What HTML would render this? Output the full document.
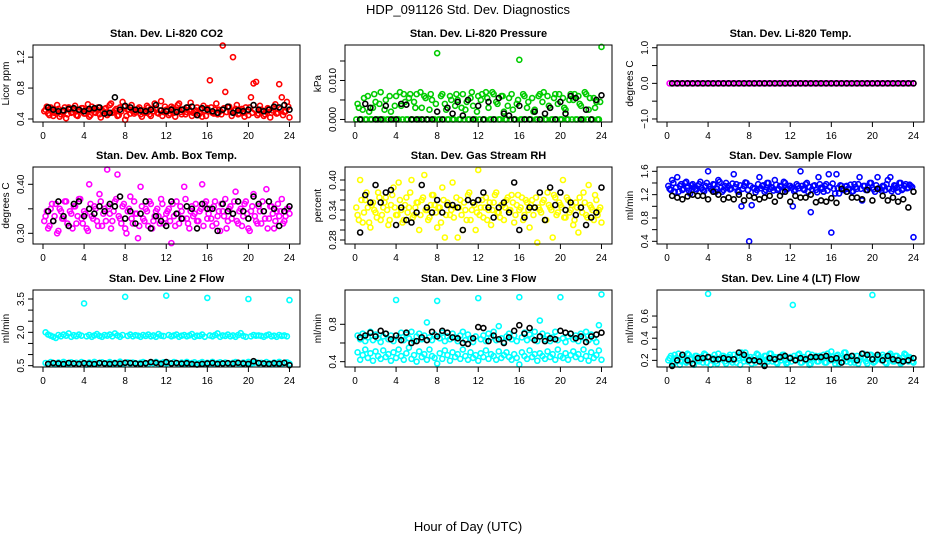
<!DOCTYPE html>
<html><head><meta charset="utf-8"><style>
html,body{margin:0;padding:0;background:#fff;}
svg{display:block;font-family:"Liberation Sans",Arial,sans-serif;}
</style></head><body>
<svg id="chart" width="936" height="540" viewBox="0 0 936 540">
<text x="468" y="14" text-anchor="middle" font-size="13">HDP_091126  Std. Dev. Diagnostics</text>
<text x="468" y="531" text-anchor="middle" font-size="13">Hour of Day (UTC)</text>
</svg>
<script>
const hoursC=[0.25,0.5,0.75,1,1.25,1.5,1.75,2,2.25,2.5,2.75,3,3.25,3.5,3.75,4,4.25,4.5,4.75,5,5.25,5.5,5.75,6,6.25,6.5,6.75,7,7.25,7.5,7.75,8,8.25,8.5,8.75,9,9.25,9.5,9.75,10,10.25,10.5,10.75,11,11.25,11.5,11.75,12,12.25,12.5,12.75,13,13.25,13.5,13.75,14,14.25,14.5,14.75,15,15.25,15.5,15.75,16,16.25,16.5,16.75,17,17.25,17.5,17.75,18,18.25,18.5,18.75,19,19.25,19.5,19.75,20,20.25,20.5,20.75,21,21.25,21.5,21.75,22,22.25,22.5,22.75,23,23.25,23.5,23.75,24];
const hoursC2=[0.125,0.375,0.625,0.875,1.125,1.375,1.625,1.875,2.125,2.375,2.625,2.875,3.125,3.375,3.625,3.875,4.125,4.375,4.625,4.875,5.125,5.375,5.625,5.875,6.125,6.375,6.625,6.875,7.125,7.375,7.625,7.875,8.125,8.375,8.625,8.875,9.125,9.375,9.625,9.875,10.125,10.375,10.625,10.875,11.125,11.375,11.625,11.875,12.125,12.375,12.625,12.875,13.125,13.375,13.625,13.875,14.125,14.375,14.625,14.875,15.125,15.375,15.625,15.875,16.125,16.375,16.625,16.875,17.125,17.375,17.625,17.875,18.125,18.375,18.625,18.875,19.125,19.375,19.625,19.875,20.125,20.375,20.625,20.875,21.125,21.375,21.625,21.875,22.125,22.375,22.625,22.875,23.125,23.375,23.625,23.875];
const hoursK=[0.5,1,1.5,2,2.5,3,3.5,4,4.5,5,5.5,6,6.5,7,7.5,8,8.5,9,9.5,10,10.5,11,11.5,12,12.5,13,13.5,14,14.5,15,15.5,16,16.5,17,17.5,18,18.5,19,19.5,20,20.5,21,21.5,22,22.5,23,23.5,24];
const xTicks=[0,4,8,12,16,20,24];

const co2Colored=[0.52,0.47,0.55,0.44,0.50,0.53,0.46,0.49,0.41,0.55,0.48,0.52,
0.45,0.50,0.54,0.47,0.51,0.43,0.56,0.49,0.52,0.46,0.50,0.53,
0.45,0.58,0.48,0.51,0.44,0.55,0.62,0.39,0.52,0.47,0.50,0.49,
0.53,0.46,0.51,0.48,0.55,0.44,0.50,0.53,0.47,0.63,0.49,0.52,
0.45,0.56,0.48,0.51,0.60,0.46,0.53,0.49,0.52,0.44,0.50,0.55,
0.47,0.43,0.51,0.54,0.90,0.48,0.52,0.46,0.50,1.35,0.75,0.55,
0.49,1.20,0.53,0.46,0.51,0.48,0.55,0.45,0.68,0.86,0.88,0.47,
0.52,0.44,0.50,0.53,0.48,0.55,0.47,0.85,0.68,0.49,0.62,0.42];
const co2Colored2=[0.50,0.56,0.45,0.53,0.48,0.58,0.43,0.51,0.55,0.46,0.52,0.49,
0.57,0.44,0.51,0.54,0.47,0.59,0.45,0.52,0.48,0.55,0.42,0.50,
0.54,0.47,0.60,0.49,0.53,0.45,0.50,0.56,0.44,0.52,0.58,0.47,
0.51,0.55,0.43,0.49,0.57,0.46,0.53,0.60,0.48,0.51,0.44,0.56,
0.50,0.47,0.54,0.43,0.58,0.49,0.52,0.46,0.55,0.61,0.48,0.51,
0.45,0.53,0.57,0.44,0.50,0.55,0.47,0.60,0.52,0.46,0.54,0.49,
0.56,0.44,0.51,0.58,0.47,0.53,0.43,0.50,0.55,0.48,0.52,0.45,
0.57,0.50,0.46,0.54,0.42,0.51,0.59,0.48,0.53,0.45,0.50,0.56];
const co2Black=[0.55,0.52,0.50,0.51,0.53,0.54,0.52,0.50,0.53,0.54,0.55,0.47,0.48,0.68,0.52,0.57,0.55,0.52,0.51,0.50,0.52,0.58,0.51,0.50,0.52,0.49,0.52,0.55,0.56,0.45,0.54,0.52,0.50,0.48,0.52,0.56,0.48,0.51,0.50,0.52,0.58,0.52,0.50,0.52,0.56,0.55,0.58,0.52];

const presColored=[0.0040,0,0.0025,0,0.0060,0,0.0030,0.0045,0,0.0070,0,0.0050,
0,0.0020,0,0.0060,0,0.0035,0.0065,0,0.0055,0,0.0045,0.0065,
0,0.0030,0.0060,0,0.0025,0.0050,0,0.0170,0,0.0065,0.0040,0,
0.0060,0,0.0035,0.0050,0,0.0065,0.0025,0,0.0055,0.0035,0,0.0060,
0.0050,0,0.0070,0.0030,0,0.0065,0.0045,0,0.0060,0.0020,0,0.0055,
0.0065,0,0.0040,0.0153,0,0.0060,0.0030,0,0.0055,0.0025,0,0.0065,
0.0045,0,0.0060,0.0030,0,0.0065,0.0040,0,0.0055,0.0025,0,0.0065,
0.0050,0,0.0060,0.0035,0,0.0065,0.0025,0,0.0055,0.0045,0,0.0186];
const presColored2=[0,0.0030,0,0.0055,0,0.0020,0,0.0065,0,0.0040,0,0.0025,
0,0.0060,0,0.0035,0,0.0070,0,0.0045,0,0.0065,0,0.0030,
0,0.0070,0,0.0055,0,0.0065,0,0.0040,0,0.0060,0,0.0025,
0,0.0050,0,0.0065,0,0.0030,0,0.0045,0,0.0070,0,0.0020,
0,0.0065,0,0.0055,0,0.0070,0,0.0040,0,0.0060,0,0.0035,
0,0.0025,0,0.0050,0,0.0065,0,0.0045,0,0.0020,0,0.0060,
0,0.0070,0,0.0035,0,0.0055,0,0.0065,0,0.0030,0,0.0050,
0,0.0065,0,0.0040,0,0.0070,0,0.0055,0,0.0030,0,0.0045];
const presBlack=[0,0.0040,0.0030,0,0,0.0035,0,0,0.0040,0.0038,0,0,0,0,0,0.0020,0,0.0030,0.0015,0.0045,0.0010,0.0050,0,0.0035,0,0.0045,0,0.0055,0.0015,0.0010,0,0.0035,0,0,0.0020,0,0.0015,0.0030,0,0.0045,0.0015,0.0060,0.0055,0,0.0025,0,0.0050,0.0062];

const tempColored=[0,0,0,0,0,0,0,0,0,0,0,0,0,0,0,0,0,0,0,0,0,0,0,0,0,0,0,0,0,0,0,0,0,0,0,0,0,0,0,0,0,0,0,0,0,0,0,0,0,0,0,0,0,0,0,0,0,0,0,0,0,0,0,0,0,0,0,0,0,0,0,0,0,0,0,0,0,0,0,0,0,0,0,0,0,0,0,0,0,0,0,0,0,0,0,0];
const tempBlack=[0,0,0,0,0,0,0,0,0,0,0,0,0,0,0,0,0,0,0,0,0,0,0,0,0,0,0,0,0,0,0,0,0,0,0,0,0,0,0,0,0,0,0,0,0,0,0,0];

const boxColored=[0.335,0.310,0.350,0.325,0.360,0.305,0.345,0.330,0.365,0.315,0.340,0.355,
0.320,0.370,0.330,0.345,0.310,0.400,0.335,0.355,0.325,0.380,0.315,0.350,
0.430,0.340,0.325,0.365,0.420,0.330,0.355,0.310,0.345,0.375,0.320,0.340,
0.290,0.395,0.330,0.350,0.315,0.360,0.325,0.345,0.335,0.370,0.320,0.340,
0.350,0.280,0.335,0.365,0.320,0.345,0.395,0.330,0.310,0.355,0.340,0.325,
0.345,0.400,0.360,0.330,0.350,0.315,0.365,0.335,0.305,0.345,0.370,0.325,
0.355,0.340,0.385,0.320,0.350,0.335,0.365,0.310,0.345,0.380,0.325,0.355,
0.320,0.345,0.390,0.330,0.355,0.310,0.345,0.335,0.370,0.325,0.350,0.340];
const boxColored2=[0.325,0.345,0.315,0.360,0.335,0.300,0.350,0.330,0.365,0.320,0.345,0.310,
0.355,0.335,0.370,0.320,0.340,0.305,0.360,0.330,0.350,0.315,0.365,0.340,
0.325,0.355,0.310,0.345,0.370,0.335,0.320,0.360,0.300,0.350,0.330,0.365,
0.340,0.315,0.355,0.325,0.345,0.365,0.310,0.335,0.350,0.320,0.360,0.330,
0.345,0.325,0.360,0.315,0.340,0.355,0.330,0.370,0.320,0.345,0.335,0.360,
0.325,0.350,0.315,0.365,0.340,0.330,0.355,0.320,0.345,0.360,0.335,0.310,
0.350,0.330,0.365,0.325,0.345,0.315,0.360,0.340,0.305,0.355,0.335,0.320,
0.345,0.365,0.330,0.310,0.355,0.340,0.325,0.360,0.345,0.320,0.335,0.350];
const boxBlack=[0.345,0.325,0.365,0.335,0.315,0.360,0.365,0.335,0.350,0.340,0.355,0.345,0.360,0.355,0.375,0.330,0.345,0.320,0.340,0.365,0.310,0.335,0.325,0.315,0.365,0.340,0.330,0.355,0.350,0.310,0.360,0.350,0.350,0.305,0.360,0.345,0.340,0.365,0.345,0.330,0.375,0.360,0.345,0.365,0.350,0.315,0.345,0.355];

const rhColored=[0.330,0.400,0.315,0.360,0.345,0.305,0.355,0.335,0.375,0.320,0.345,0.365,
0.310,0.350,0.385,0.330,0.395,0.340,0.320,0.365,0.345,0.400,0.330,0.355,
0.300,0.360,0.410,0.340,0.325,0.370,0.350,0.305,0.345,0.385,0.285,0.355,
0.330,0.395,0.345,0.285,0.360,0.300,0.340,0.370,0.320,0.355,0.300,0.420,
0.345,0.325,0.365,0.340,0.310,0.355,0.375,0.335,0.350,0.320,0.360,0.340,
0.370,0.315,0.350,0.340,0.365,0.330,0.355,0.305,0.360,0.345,0.275,0.340,
0.355,0.320,0.375,0.345,0.285,0.365,0.335,0.350,0.400,0.325,0.360,0.340,
0.310,0.355,0.295,0.345,0.375,0.330,0.390,0.345,0.320,0.360,0.340,0.315];
const rhColored2=[0.345,0.320,0.360,0.335,0.375,0.315,0.350,0.340,0.325,0.365,0.330,0.355,
0.340,0.320,0.370,0.345,0.330,0.360,0.315,0.350,0.335,0.375,0.325,0.345,
0.355,0.330,0.365,0.340,0.320,0.350,0.370,0.335,0.345,0.315,0.360,0.330,
0.350,0.340,0.325,0.365,0.345,0.330,0.355,0.320,0.375,0.340,0.350,0.335,
0.330,0.360,0.345,0.320,0.355,0.340,0.370,0.335,0.325,0.350,0.345,0.365,
0.340,0.355,0.330,0.370,0.345,0.320,0.360,0.340,0.350,0.330,0.365,0.345,
0.335,0.360,0.320,0.350,0.340,0.370,0.330,0.355,0.345,0.325,0.365,0.335,
0.350,0.320,0.345,0.365,0.335,0.355,0.325,0.350,0.340,0.370,0.330,0.345];
const rhBlack=[0.295,0.370,0.355,0.390,0.355,0.375,0.380,0.310,0.345,0.320,0.315,0.335,0.390,0.345,0.335,0.360,0.335,0.350,0.350,0.345,0.300,0.360,0.355,0.360,0.375,0.345,0.325,0.345,0.355,0.335,0.395,0.300,0.325,0.345,0.345,0.375,0.320,0.385,0.350,0.375,0.340,0.355,0.330,0.345,0.310,0.325,0.335,0.385];

const flowColored=[1.30,1.45,1.25,1.50,1.35,1.28,1.40,1.32,1.22,1.38,1.30,1.35,
1.42,1.28,1.35,1.60,1.30,1.38,1.25,1.45,1.32,1.28,1.40,1.35,
1.30,1.55,1.38,1.25,1.00,1.35,1.40,0.40,1.02,1.30,1.28,1.50,
1.35,1.25,1.40,1.30,1.32,1.45,1.28,1.35,1.25,1.40,1.30,1.35,
1.00,1.28,1.35,1.60,1.30,1.38,1.25,0.90,1.35,1.28,1.50,1.32,
1.25,1.38,1.55,0.55,1.30,1.55,1.22,1.35,1.28,1.35,1.30,1.25,
1.38,1.30,1.50,1.10,1.35,1.28,1.40,1.32,1.25,1.50,1.30,1.35,
1.28,1.45,1.50,1.30,1.35,1.25,1.40,1.30,1.38,1.32,1.35,0.47];
const flowColored2=[1.35,1.28,1.40,1.32,1.25,1.38,1.30,1.42,1.27,1.36,1.33,1.29,
1.38,1.31,1.26,1.40,1.34,1.28,1.37,1.30,1.42,1.25,1.35,1.32,
1.29,1.39,1.33,1.26,1.36,1.30,1.41,1.28,1.35,1.32,1.24,1.38,
1.31,1.36,1.28,1.40,1.33,1.27,1.37,1.30,1.34,1.42,1.29,1.35,
1.32,1.26,1.38,1.31,1.35,1.28,1.40,1.33,1.29,1.36,1.24,1.38,
1.30,1.35,1.27,1.33,1.39,1.22,1.31,1.36,1.28,1.34,1.30,1.37,
1.26,1.33,1.38,1.30,1.35,1.28,1.32,1.40,1.29,1.36,1.31,1.27,
1.34,1.38,1.30,1.26,1.36,1.32,1.40,1.28,1.35,1.31,1.37,1.33];
const flowBlack=[1.18,1.15,1.12,1.17,1.20,1.18,1.18,1.12,1.25,1.20,1.12,1.15,1.12,1.20,1.10,1.18,1.15,1.12,1.15,1.18,1.08,1.18,1.25,1.08,1.18,1.15,1.15,1.20,1.07,1.10,1.08,1.14,1.06,1.30,1.25,1.15,1.15,1.12,1.28,1.10,1.30,1.18,1.10,1.15,1.08,1.12,0.98,1.25];

const line2Upper=[2.00,1.90,1.85,1.80,1.75,1.88,1.82,1.90,1.85,1.95,1.80,1.87,
1.83,1.90,1.85,3.30,1.82,1.88,1.80,1.86,1.92,1.84,1.80,1.88,
1.85,1.90,1.82,1.95,1.86,1.80,1.88,3.60,1.84,1.90,1.82,1.87,
1.85,1.80,1.88,1.84,1.90,1.82,1.86,1.80,1.92,1.85,1.83,3.65,
1.88,1.82,1.86,1.90,1.80,1.85,1.88,1.82,1.86,1.92,1.80,1.85,
1.84,1.90,1.80,3.55,1.86,1.82,1.88,1.95,1.80,1.86,1.84,1.90,
1.82,1.86,1.80,1.88,1.96,1.84,1.80,3.50,1.82,1.88,1.85,1.86,
1.84,1.80,1.86,1.90,1.82,1.85,1.80,1.88,1.84,1.86,1.82,3.45];
const line2Lower=[0.62,0.58,0.66,0.60,0.56,0.64,0.59,0.67,0.61,0.57,0.65,0.60,
0.63,0.58,0.66,0.61,0.55,0.64,0.60,0.67,0.58,0.62,0.65,0.59,
0.61,0.66,0.57,0.63,0.60,0.68,0.58,0.62,0.65,0.59,0.64,0.61,
0.57,0.63,0.66,0.60,0.58,0.64,0.61,0.67,0.56,0.62,0.65,0.60,
0.63,0.59,0.66,0.61,0.57,0.64,0.60,0.67,0.58,0.62,0.65,0.59,
0.61,0.66,0.58,0.63,0.60,0.67,0.57,0.62,0.65,0.59,0.64,0.61,
0.58,0.63,0.66,0.60,0.57,0.64,0.61,0.67,0.59,0.62,0.65,0.60,
0.63,0.58,0.66,0.61,0.56,0.64,0.60,0.67,0.58,0.62,0.65,0.59];
const line2Black=[0.58,0.62,0.60,0.57,0.62,0.60,0.58,0.61,0.59,0.57,0.62,0.60,0.58,0.61,0.59,0.63,0.62,0.60,0.58,0.61,0.66,0.63,0.58,0.66,0.60,0.62,0.59,0.61,0.57,0.55,0.58,0.60,0.62,0.58,0.60,0.61,0.59,0.63,0.60,0.58,0.70,0.62,0.60,0.58,0.61,0.59,0.63,0.52];

const line3Upper=[0.68,0.64,0.70,0.62,0.66,0.72,0.63,0.69,0.65,0.61,0.67,0.70,
0.64,0.68,0.62,1.06,0.66,0.71,0.63,0.69,0.65,0.72,0.62,0.67,
0.70,0.64,0.68,0.82,0.66,0.63,0.69,1.05,0.65,0.71,0.62,0.67,
0.64,0.70,0.66,0.62,0.68,0.72,0.63,0.69,0.65,0.61,0.67,1.08,
0.64,0.68,0.62,0.70,0.66,0.72,0.63,0.78,0.65,0.61,0.67,0.70,
0.64,0.68,0.62,1.09,0.66,0.71,0.63,0.69,0.65,0.72,0.62,0.84,
0.70,0.64,0.68,0.62,0.66,0.72,0.63,1.09,0.65,0.61,0.67,0.70,
0.64,0.68,0.62,0.70,0.66,0.72,0.63,0.69,0.65,0.61,0.79,1.12];
const line3Lower=[0.50,0.42,0.47,0.53,0.44,0.49,0.41,0.51,0.46,0.43,0.52,0.45,
0.48,0.41,0.50,0.44,0.53,0.46,0.42,0.49,0.55,0.43,0.47,0.40,
0.51,0.45,0.48,0.42,0.53,0.46,0.44,0.38,0.49,0.43,0.52,0.47,
0.41,0.50,0.45,0.48,0.43,0.53,0.46,0.42,0.50,0.44,0.47,0.41,
0.49,0.45,0.52,0.43,0.48,0.46,0.42,0.51,0.44,0.47,0.50,0.45,
0.42,0.48,0.44,0.37,0.50,0.46,0.43,0.52,0.45,0.48,0.41,0.49,
0.46,0.43,0.51,0.45,0.48,0.42,0.53,0.46,0.44,0.49,0.42,0.47,
0.51,0.45,0.48,0.43,0.53,0.46,0.41,0.50,0.44,0.47,0.52,0.42];
const line3Black=[0.66,0.68,0.71,0.67,0.73,0.70,0.64,0.68,0.63,0.71,0.60,0.62,0.66,0.63,0.72,0.67,0.73,0.71,0.66,0.65,0.60,0.59,0.65,0.77,0.76,0.62,0.68,0.64,0.60,0.66,0.73,0.79,0.70,0.76,0.63,0.67,0.62,0.65,0.64,0.73,0.71,0.70,0.65,0.67,0.61,0.67,0.69,0.71];

const line4Colored=[0.22,0.18,0.25,0.20,0.16,0.23,0.19,0.26,0.21,0.17,0.24,0.20,
0.23,0.18,0.25,0.80,0.16,0.22,0.19,0.26,0.21,0.24,0.17,0.23,
0.20,0.25,0.18,0.22,0.27,0.19,0.24,0.21,0.17,0.23,0.26,0.20,
0.18,0.24,0.21,0.26,0.19,0.23,0.17,0.22,0.25,0.20,0.18,0.23,
0.70,0.21,0.25,0.18,0.23,0.20,0.26,0.17,0.22,0.24,0.19,0.21,
0.25,0.18,0.23,0.28,0.20,0.24,0.17,0.22,0.27,0.19,0.23,0.21,
0.18,0.24,0.20,0.26,0.22,0.17,0.25,0.79,0.19,0.23,0.21,0.25,
0.18,0.22,0.26,0.19,0.24,0.20,0.17,0.23,0.25,0.19,0.22,0.18];
const line4Colored2=[0.20,0.24,0.17,0.22,0.26,0.19,0.23,0.18,0.25,0.21,0.16,0.24,
0.19,0.22,0.26,0.18,0.23,0.20,0.25,0.17,0.21,0.24,0.19,0.22,
0.25,0.18,0.21,0.24,0.16,0.22,0.27,0.19,0.23,0.20,0.18,0.25,
0.21,0.17,0.24,0.19,0.26,0.22,0.18,0.23,0.20,0.25,0.17,0.22,
0.19,0.24,0.21,0.26,0.18,0.23,0.20,0.16,0.25,0.22,0.19,0.24,
0.22,0.18,0.26,0.20,0.23,0.17,0.25,0.21,0.19,0.27,0.22,0.18,
0.24,0.20,0.17,0.23,0.26,0.19,0.22,0.25,0.18,0.21,0.24,0.20,
0.23,0.17,0.25,0.21,0.19,0.24,0.22,0.18,0.26,0.20,0.23,0.19];
const line4Black=[0.15,0.20,0.25,0.20,0.17,0.22,0.22,0.23,0.21,0.21,0.22,0.21,0.21,0.27,0.25,0.20,0.20,0.19,0.15,0.22,0.21,0.23,0.24,0.22,0.20,0.22,0.21,0.23,0.23,0.23,0.24,0.21,0.22,0.18,0.23,0.24,0.20,0.26,0.25,0.21,0.25,0.20,0.24,0.21,0.20,0.19,0.20,0.22];

const co2YTicks=[0.4,0.8,1.2], co2YLabels=["0.4","0.8","1.2"];
const presYTicks=[0,0.005,0.010,0.015], presYLabels=["0.000","","0.010",""];
const tempYTicks=[-1,-0.5,0,0.5,1], tempYLabels=["\u22121.0","","0.0","","1.0"];
const boxYTicks=[0.30,0.35,0.40], boxYLabels=["0.30","","0.40"];
const rhYTicks=[0.28,0.30,0.32,0.34,0.36,0.38,0.40], rhYLabels=["0.28","","","0.34","","","0.40"];
const flowYTicks=[0.4,0.6,0.8,1.0,1.2,1.4,1.6], flowYLabels=["0.4","","0.8","","1.2","","1.6"];
const line2YTicks=[0.5,1.0,1.5,2.0,2.5,3.0,3.5], line2YLabels=["0.5","","","2.0","","","3.5"];
const line3YTicks=[0.4,0.6,0.8], line3YLabels=["0.4","","0.8"];
const line4YTicks=[0.2,0.3,0.4,0.5,0.6], line4YLabels=["0.2","","0.4","","0.6"];

const NS="http://www.w3.org/2000/svg";
const svg=document.getElementById('chart');
const colX0=[43,355,667], rowTop=[45,167,290], PXH=10.27, BOXW=267, BOXH=77;

const panels=[
 {name:'co2',title:'Stan. Dev. Li-820 CO2',ylab:'Licor ppm',c:0,r:0,lo:0.361,hi:1.357,yt:co2YTicks,yl:co2YLabels,series:[[hoursC,co2Colored,'#ff0000'],[hoursC2,co2Colored2,'#ff0000'],[hoursK,co2Black,'#000']]},
 {name:'pressure',title:'Stan. Dev. Li-820 Pressure',ylab:'kPa',c:1,r:0,lo:-0.00065,hi:0.0191,yt:presYTicks,yl:presYLabels,series:[[hoursC,presColored,'#00cc00'],[hoursC2,presColored2,'#00cc00'],[hoursK,presBlack,'#000']]},
 {name:'li820-temp',title:'Stan. Dev. Li-820 Temp.',ylab:'degrees C',c:2,r:0,lo:-1.085,hi:1.077,yt:tempYTicks,yl:tempYLabels,series:[[hoursC,tempColored,'#ff00ff'],[hoursK,tempBlack,'#000']]},
 {name:'box-temp',title:'Stan. Dev. Amb. Box Temp.',ylab:'degrees C',c:0,r:1,lo:0.2782,hi:0.4353,yt:boxYTicks,yl:boxYLabels,series:[[hoursC,boxColored,'#ff00ff'],[hoursC2,boxColored2,'#ff00ff'],[hoursK,boxBlack,'#000']]},
 {name:'gas-rh',title:'Stan. Dev. Gas Stream RH',ylab:'percent',c:1,r:1,lo:0.272,hi:0.426,yt:rhYTicks,yl:rhYLabels,series:[[hoursC,rhColored,'#ffff00'],[hoursC2,rhColored2,'#ffff00'],[hoursK,rhBlack,'#000']]},
 {name:'sample-flow',title:'Stan. Dev. Sample Flow',ylab:'ml/min',c:2,r:1,lo:0.354,hi:1.674,yt:flowYTicks,yl:flowYLabels,series:[[hoursC,flowColored,'#0000ff'],[hoursC2,flowColored2,'#0000ff'],[hoursK,flowBlack,'#000']]},
 {name:'line2-flow',title:'Stan. Dev. Line 2 Flow',ylab:'ml/min',c:0,r:2,lo:0.44,hi:3.905,yt:line2YTicks,yl:line2YLabels,series:[[hoursC,line2Upper,'#00ffff'],[hoursC,line2Lower,'#00ffff'],[hoursK,line2Black,'#000']]},
 {name:'line3-flow',title:'Stan. Dev. Line 3 Flow',ylab:'ml/min',c:1,r:2,lo:0.343,hi:1.167,yt:line3YTicks,yl:line3YLabels,series:[[hoursC,line3Upper,'#00ffff'],[hoursC,line3Lower,'#00ffff'],[hoursK,line3Black,'#000']]},
 {name:'line4-flow',title:'Stan. Dev. Line 4 (LT) Flow',ylab:'ml/min',c:2,r:2,lo:0.14,hi:0.835,yt:line4YTicks,yl:line4YLabels,series:[[hoursC,line4Colored,'#00ffff'],[hoursC2,line4Colored2,'#00ffff'],[hoursK,line4Black,'#000']]}
];

function mk(tag,attrs,parent){const e=document.createElementNS(NS,tag);for(const k in attrs)e.setAttribute(k,attrs[k]);(parent||svg).appendChild(e);return e;}

panels.forEach(p=>{
  const x0=colX0[p.c], top=rowTop[p.r], left=x0-10, bottom=top+BOXH;
  const xs=h=>x0+h*PXH;
  const ys=v=>bottom-(v-p.lo)/(p.hi-p.lo)*BOXH;
  const g=mk('g',{});
  
  
  const t=mk('text',{x:left+BOXW/2,y:top-8,'text-anchor':'middle','font-size':'11','font-weight':'bold'},g);
  t.textContent=p.title;
  
  
  const yl=mk('text',{x:left-24,y:top+BOXH/2,'text-anchor':'middle','font-size':'10',transform:`rotate(-90 ${left-24} ${top+BOXH/2})`},g);
  yl.textContent=p.ylab;
  
  
  const xa=mk('g',{},g);
  
  
  mk('line',{x1:xs(0),x2:xs(24),y1:bottom,y2:bottom,stroke:'#000','stroke-width':1},xa);
  xTicks.forEach(v=>{
    mk('line',{x1:xs(v),x2:xs(v),y1:bottom,y2:bottom+5,stroke:'#000','stroke-width':1},xa);
    const l=mk('text',{x:xs(v),y:bottom+17,'text-anchor':'middle','font-size':'10'},xa);
    l.textContent=String(v);
    
    
  });
  const ya=mk('g',{},g);
  
  
  mk('line',{x1:left,x2:left,y1:ys(p.yt[0]),y2:ys(p.yt[p.yt.length-1]),stroke:'#000','stroke-width':1},ya);
  p.yt.forEach((v,i)=>{
    const y=ys(v);
    mk('line',{x1:left-5,x2:left,y1:y,y2:y,stroke:'#000','stroke-width':1},ya);
    if(p.yl[i]){
      const l=mk('text',{x:left-9,y:y,'text-anchor':'middle','font-size':'10',transform:`rotate(-90 ${left-9} ${y})`},ya);
      l.textContent=p.yl[i];
      
      
    }
  });
  p.series.forEach((s,si)=>{
    const sg=mk('g',{fill:'none',stroke:s[2],'stroke-width':1.6},g);
    
    
    const hrs=s[0], vals=s[1];
    for(let i=0;i<vals.length&&i<hrs.length;i++){
      const c=mk('circle',{cx:xs(hrs[i]),cy:ys(vals[i]),r:2.5},sg);
      
      
    }
  });
  const box=mk('rect',{x:left,y:top,width:BOXW,height:BOXH,fill:'none',stroke:'#000','stroke-width':1},g);
  
  
});
</script>
</body></html>
